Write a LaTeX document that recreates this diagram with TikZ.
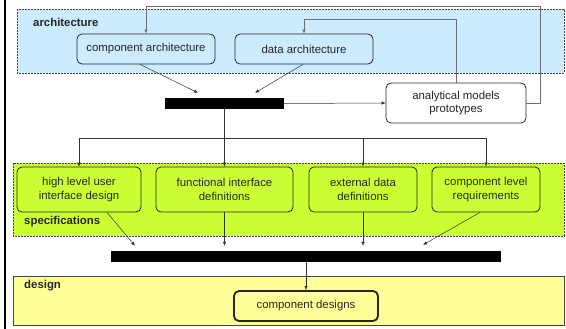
\documentclass[tikz,border=0pt]{standalone}
\usepackage{fontspec}
\setmainfont{Liberation Sans}
\usetikzlibrary{arrows.meta}
\definecolor{archblue}{RGB}{204,235,255}
\definecolor{speclime}{RGB}{204,255,51}
\definecolor{designyel}{RGB}{255,255,153}
\definecolor{edgegray}{RGB}{70,70,70}
\definecolor{fbgray}{RGB}{110,110,110}
\begin{document}
\begin{tikzpicture}[x=1pt,y=-1pt,
  every node/.style={font=\fontsize{11.4}{13.5}\selectfont, text=black!85},
  area/.style={draw=edgegray, line width=0.8pt, dash pattern=on 2pt off 1pt},
  box/.style={draw=black!85, rounded corners=5pt, line width=0.8pt, align=center, inner sep=0pt},
  bar/.style={fill=black, inner sep=0pt},
  lbl/.style={anchor=west, font=\bfseries\fontsize{11.4}{13.5}\selectfont, inner sep=0pt},
  conn/.style={draw=black!80, line width=0.5pt, -{Latex[length=4pt,width=3.5pt]}},
  plain/.style={draw=black!80, line width=0.6pt},
  fb/.style={draw=fbgray, line width=0.6pt},
  fbarrow/.style={draw=fbgray, line width=0.6pt, -{Latex[length=4pt,width=3.5pt]}}
]
\useasboundingbox (0,0) rectangle (566,329);
% left frame edge
\draw[line width=2pt] (4.5,0) -- (4.5,329);

% containers
\path[area, fill=archblue] (17,9) rectangle (564,73);
\path[area, fill=speclime] (13,163) rectangle (564,236);
\path[draw=edgegray, line width=0.8pt, fill=designyel] (13,276) rectangle (564,325);

\node[lbl] (larch) at (33,22) {architecture};
\node[lbl] (lspec) at (24,222) {specifications};
\node[lbl] (ldes) at (24,286) {design};

% nodes
\node[box, fill=archblue, minimum width=138pt, minimum height=30pt] (ca) at (146,49) {component architecture};
\node[box, fill=archblue, minimum width=138pt, minimum height=30pt] (da) at (304,49) {data architecture};
\node[bar, minimum width=119pt, minimum height=11pt] (bar1) at (224.5,103.5) {};
\node[box, fill=white, minimum width=140pt, minimum height=40pt] (an) at (456,103) {analytical models\\prototypes};

\node[box, fill=speclime, minimum width=124pt, minimum height=45pt] (hl) at (79,189.5) {high level user\\interface design};
\node[box, fill=speclime, minimum width=137pt, minimum height=45pt] (fn) at (224.5,189.5) {functional interface\\definitions};
\node[box, fill=speclime, minimum width=108pt, minimum height=45pt] (ex) at (363,189.5) {external data\\definitions};
\node[box, fill=speclime, minimum width=108pt, minimum height=45pt] (cl) at (486,189.5) {component level\\requirements};

\node[bar, minimum width=390pt, minimum height=11pt] (bar2) at (306,256.5) {};
\node[box, fill=designyel, line width=1.8pt, minimum width=144pt, minimum height=30pt] (cd) at (306,306) {component designs};

% architecture to bar1
\draw[conn] ([xshift=-6pt]ca.south) -- ([xshift=-26.5pt,yshift=5pt]bar1.north);
\draw[conn] ([xshift=-1pt]da.south) -- ([xshift=30.5pt,yshift=5pt]bar1.north);
% bar1 to analytical
\draw[conn] (bar1.east) -- (an.west);
% feedback loops
\draw[fbarrow] (an.north) -- (an.north |- 0,19) -| (da.north);
\draw[fbarrow] (an.east) -- ++(14,0) |- (ca.north |- 0,6) -- (ca.north);

% bar1 to specifications
\coordinate (split) at (bar1.south |- 0,138);
\draw[plain] (bar1.south) -- (split);
\draw[plain] (hl.north |- split) -- (cl.north |- split);
\draw[conn] (hl.north |- split) -- (hl.north);
\draw[conn] (fn.north |- split) -- (fn.north);
\draw[conn] (ex.north |- split) -- (ex.north);
\draw[conn] (cl.north |- split) -- (cl.north);

% specifications to bar2
\draw[conn] ([xshift=28pt]hl.south) -- ([xshift=-171pt,yshift=5pt]bar2.north);
\draw[conn] (fn.south) -- ([yshift=5pt]bar2.north -| fn.south);
\draw[conn] (ex.south) -- ([yshift=5pt]bar2.north -| ex.south);
\draw[conn] ([xshift=-6pt]cl.south) -- ([xshift=117pt,yshift=6pt]bar2.north);

% bar2 to design
\draw[conn] (bar2.south) -- (cd.north);
\end{tikzpicture}
\end{document}
